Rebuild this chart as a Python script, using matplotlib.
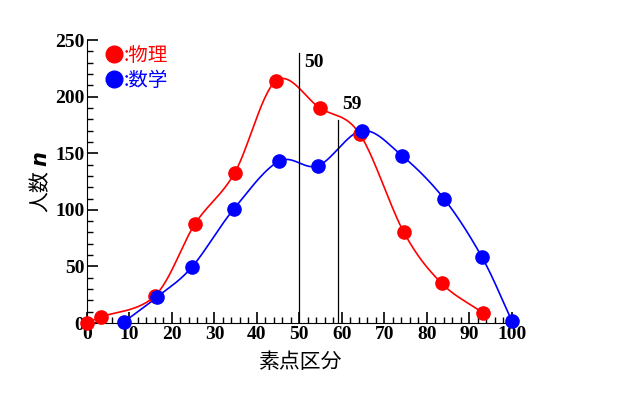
import numpy as np
import matplotlib
matplotlib.use("Agg")
from matplotlib import pyplot as plt
from matplotlib.lines import Line2D

# 物理
phys_x = [0, 3.3, 16, 25.4, 34.8, 44.5, 54.8, 64.2, 74.6, 83.5, 93.2]
phys_y = [0, 5.5, 24, 87.5, 133, 214, 190, 167, 80, 35, 9]
# 数学
math_x = [8.7, 16.5, 24.7, 34.6, 45.2, 54.4, 64.7, 74.1, 84, 93, 100]
math_y = [1, 23, 49.5, 101, 143, 139, 170, 148, 110, 58, 2]

marks = [50, 59]
mark_tops = [239, 179]

def smooth(x, y, n=30):
    # catmull-rom through the points
    x = np.asarray(x, float); y = np.asarray(y, float)
    px = np.concatenate([[2*x[0]-x[1]], x, [2*x[-1]-x[-2]]])
    py = np.concatenate([[2*y[0]-y[1]], y, [2*y[-1]-y[-2]]])
    t = np.linspace(0, 1, n)[:, None]
    xs, ys = [], []
    for i in range(1, len(px)-2):
        for p, out in ((px, xs), (py, ys)):
            p0, p1, p2, p3 = p[i-1], p[i], p[i+1], p[i+2]
            v = 0.5*((2*p1) + (-p0+p2)*t + (2*p0-5*p1+4*p2-p3)*t**2 + (-p0+3*p1-3*p2+p3)*t**3)
            out.append(v.ravel())
    return np.concatenate(xs), np.concatenate(ys)

cjk = ['Noto Sans CJK JP', 'DejaVu Sans']
serif = 'Liberation Serif'

fig = plt.figure(figsize=(6.36, 3.93), dpi=100)
ax = fig.add_axes([0.1368, 0.178, 0.668, 0.72])

for xs, ys, c in ((phys_x, phys_y, 'red'), (math_x, math_y, 'blue')):
    sx, sy = smooth(xs, ys)
    ax.plot(sx, sy, color=c, lw=1.2, clip_on=False)
    ax.plot(xs, ys, 'o', color=c, ms=9.5, clip_on=False, zorder=3)

for m, top in zip(marks, mark_tops):
    ax.plot([m, m], [0, top], color='black', lw=0.9)
ax.text(marks[0] + 1.2, 230, str(marks[0]), fontfamily=serif, fontweight='bold', fontsize=14, ha='left', va='center')
ax.text(marks[1] + 1.0, 193, str(marks[1]), fontfamily=serif, fontweight='bold', fontsize=14, ha='left', va='center')

ax.set_xlim(0, 100)
ax.set_ylim(0, 250)
ax.set_xticks(range(0, 101, 10))
ax.set_yticks(range(0, 251, 50))
ax.set_xticks(range(0, 101, 2), minor=True)
ax.set_yticks(range(0, 251, 10), minor=True)
ax.spines['top'].set_visible(False)
ax.spines['right'].set_visible(False)
ax.tick_params(which='major', direction='in', length=8, width=1.2, pad=2)
ax.tick_params(which='minor', direction='in', length=4, width=1)
for lab in ax.get_xticklabels() + ax.get_yticklabels():
    lab.set_fontfamily(serif)
    lab.set_fontweight('bold')
    lab.set_fontsize(14)

ax.set_xlabel('素点区分', fontfamily=cjk, fontsize=15, labelpad=6)
ax.set_ylabel('人数 $\\boldsymbol{n}$', fontfamily=cjk, fontsize=15, labelpad=2)

handles = [Line2D([], [], marker='o', ls='', color='red', ms=12),
           Line2D([], [], marker='o', ls='', color='blue', ms=12)]
leg = ax.legend(handles, [':物理', ':数学'], loc='upper left', bbox_to_anchor=(0.0, 1.045),
                frameon=False, handletextpad=0.0, handlelength=1.0, labelspacing=0.2,
                prop={'family': cjk, 'size': 14}, labelcolor=['red', 'blue'])

fig.savefig('out.png', dpi=100)
